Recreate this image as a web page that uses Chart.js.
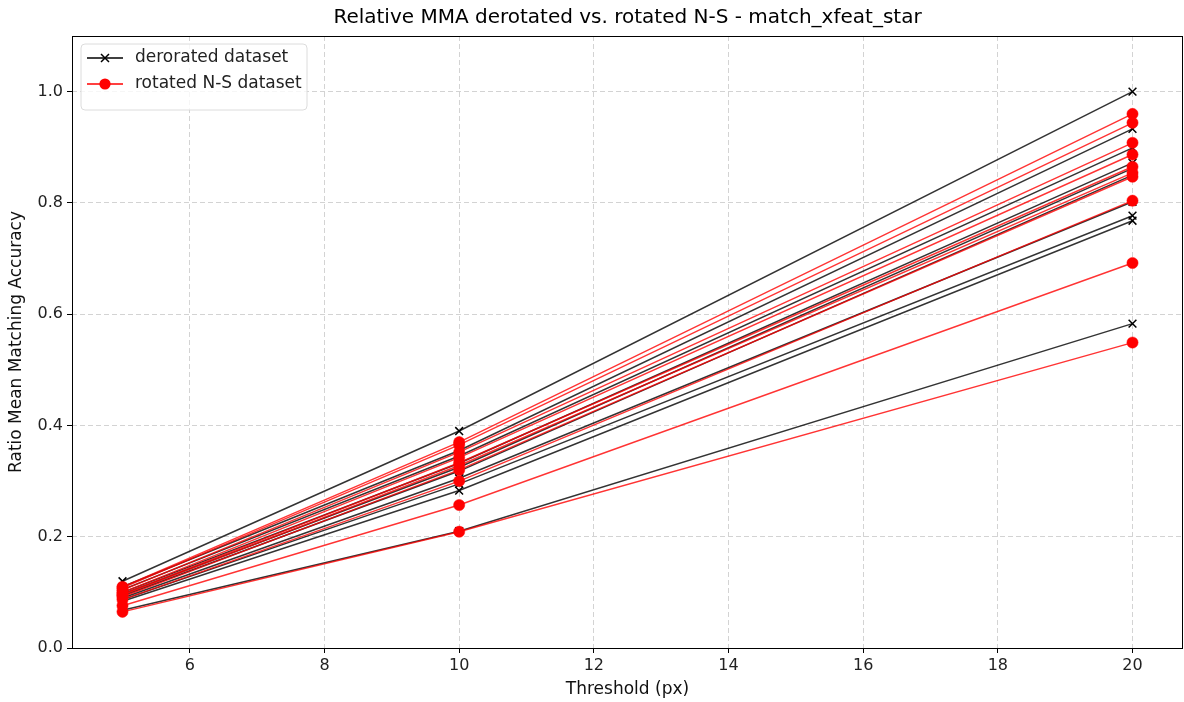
<!DOCTYPE html>
<html>
<head>
<meta charset="utf-8">
<script src="https://cdn.jsdelivr.net/npm/chart.js@4.4.1/dist/chart.umd.min.js"></script>
<style>
html,body{margin:0;padding:0;background:#fff;}
#wrap{width:1184px;height:702px;position:relative;}
</style>
</head>
<body>
<div id="wrap"><canvas id="c" width="1184" height="702"></canvas></div>
<script>
const titleText = "Relative MMA derotated vs. rotated N-S - match_xfeat_star";
const xTitle = "Threshold (px)";
const yTitle = "Ratio Mean Matching Accuracy";
const thresholds = [5, 10, 20];
const xTicks = [6, 8, 10, 12, 14, 16, 18, 20];
const yTicks = [0.0, 0.2, 0.4, 0.6, 0.8, 1.0];
const legendLabels = ["derorated dataset", "rotated N-S dataset"];

const derotated = [
  [0.120, 0.390, 1.000],
  [0.110, 0.355, 0.933],
  [0.105, 0.345, 0.899],
  [0.100, 0.332, 0.872],
  [0.097, 0.325, 0.862],
  [0.094, 0.318, 0.850],
  [0.090, 0.305, 0.802],
  [0.087, 0.295, 0.777],
  [0.084, 0.283, 0.768],
  [0.068, 0.210, 0.583]
];
const rotatedNS = [
  [0.110, 0.370, 0.960],
  [0.108, 0.365, 0.944],
  [0.104, 0.352, 0.908],
  [0.100, 0.342, 0.887],
  [0.097, 0.333, 0.865],
  [0.095, 0.328, 0.854],
  [0.092, 0.320, 0.847],
  [0.087, 0.300, 0.804],
  [0.076, 0.257, 0.692],
  [0.065, 0.209, 0.549]
];

const FONT = "'DejaVu Sans', sans-serif";
const FS = 16;
const FL = 17;
const datasets = [];
derotated.forEach((vals) => {
  datasets.push({
    label: legendLabels[0],
    data: thresholds.map((t, j) => ({x: t, y: vals[j]})),
    borderColor: 'rgba(0,0,0,0.8)',
    borderWidth: 1.5,
    pointStyle: 'crossRot',
    pointRadius: 5.5,
    pointBorderWidth: 1.5,
    pointBorderColor: '#000',
    pointBackgroundColor: '#000',
    order: 1,
    tension: 0
  });
});
rotatedNS.forEach((vals) => {
  datasets.push({
    label: legendLabels[1],
    data: thresholds.map((t, j) => ({x: t, y: vals[j]})),
    borderColor: 'rgba(255,0,0,0.8)',
    borderWidth: 1.4,
    pointStyle: 'circle',
    pointRadius: 5.6,
    pointBorderWidth: 0.5,
    pointBorderColor: '#ff0000',
    pointBackgroundColor: '#ff0000',
    order: 0,
    tension: 0
  });
});

const decor = {
  id: 'decor',
  afterDraw(chart) {
    const ctx = chart.ctx;
    const a = chart.chartArea;
    ctx.save();
    ctx.strokeStyle = '#000';
    ctx.lineWidth = 1;
    ctx.strokeRect(Math.round(a.left) + 0.5, Math.round(a.top) + 0.5, Math.round(a.right - a.left) - 1, Math.round(a.bottom - a.top));
    ctx.fillStyle = '#000';
    ctx.font = "20px " + FONT;
    ctx.textAlign = 'center';
    ctx.textBaseline = 'middle';
    ctx.fillText(titleText, (a.left + a.right) / 2, 18);
    ctx.font = FL + "px " + FONT;
    ctx.fillStyle = '#111';
    ctx.fillText(xTitle, (a.left + a.right) / 2, 690);
    ctx.save();
    ctx.translate(17, (a.top + a.bottom) / 2);
    ctx.rotate(-Math.PI / 2);
    ctx.fillText(yTitle, 0, 0);
    ctx.restore();
    const lx = 81, ly = 44, lw = 226, lh = 66, r = 4;
    ctx.beginPath();
    ctx.moveTo(lx + r, ly);
    ctx.arcTo(lx + lw, ly, lx + lw, ly + lh, r);
    ctx.arcTo(lx + lw, ly + lh, lx, ly + lh, r);
    ctx.arcTo(lx, ly + lh, lx, ly, r);
    ctx.arcTo(lx, ly, lx + lw, ly, r);
    ctx.closePath();
    ctx.fillStyle = 'rgba(255,255,255,0.8)';
    ctx.fill();
    ctx.strokeStyle = '#dcdcdc';
    ctx.lineWidth = 1;
    ctx.stroke();
    const rows = [58, 84];
    ctx.strokeStyle = '#000';
    ctx.lineWidth = 1.4;
    ctx.beginPath(); ctx.moveTo(87, rows[0]); ctx.lineTo(123, rows[0]); ctx.stroke();
    ctx.lineWidth = 1.5;
    ctx.beginPath();
    ctx.moveTo(105 - 4, rows[0] - 4); ctx.lineTo(105 + 4, rows[0] + 4);
    ctx.moveTo(105 - 4, rows[0] + 4); ctx.lineTo(105 + 4, rows[0] - 4);
    ctx.stroke();
    ctx.strokeStyle = '#ff0000';
    ctx.lineWidth = 1.4;
    ctx.beginPath(); ctx.moveTo(87, rows[1]); ctx.lineTo(123, rows[1]); ctx.stroke();
    ctx.fillStyle = '#ff0000';
    ctx.beginPath(); ctx.arc(105, rows[1], 5.6, 0, Math.PI * 2); ctx.fill();
    ctx.fillStyle = '#222';
    ctx.font = FL + "px " + FONT;
    ctx.textAlign = 'left';
    ctx.fillText(legendLabels[0], 135, rows[0]);
    ctx.fillText(legendLabels[1], 135, rows[1]);
    ctx.restore();
  }
};

const gridOpts = { color: '#d3d3d3', lineWidth: 1, drawTicks: true, tickLength: 5, tickColor: '#000', tickBorderDash: [1, 0], tickWidth: 1 };

new Chart(document.getElementById('c'), {
  type: 'line',
  data: { datasets },
  plugins: [decor],
  options: {
    responsive: false,
    animation: false,
    devicePixelRatio: 1,
    layout: { autoPadding: false, padding: { top: 36, right: 1, left: 0, bottom: 0 } },
    plugins: { legend: { display: false }, tooltip: { enabled: false }, title: { display: false } },
    scales: {
      x: {
        type: 'linear',
        min: 4.25, max: 20.75,
        afterBuildTicks(s) { s.ticks = xTicks.map(v => ({value: v})); },
        afterFit(s) { s.height = 54; s.paddingLeft = 0; s.paddingRight = 0; },
        grid: gridOpts,
        border: { display: false, dash: [5, 3] },
        ticks: { color: '#222', font: { family: FONT, size: FS }, padding: 3, maxRotation: 0, callback: v => String(v) }
      },
      y: {
        type: 'linear',
        min: 0, max: 1.1,
        afterBuildTicks(s) { s.ticks = yTicks.map(v => ({value: v})); },
        afterFit(s) { s.width = 72; s.paddingTop = 0; s.paddingBottom = 0; },
        grid: gridOpts,
        border: { display: false, dash: [5, 3] },
        ticks: { color: '#222', font: { family: FONT, size: FS }, padding: 4, callback: v => v.toFixed(1) }
      }
    }
  }
});
</script>
</body>
</html>
